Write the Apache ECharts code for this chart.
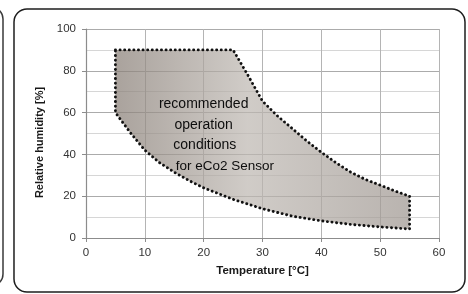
<!DOCTYPE html>
<html>
<head>
<meta charset="utf-8">
<script src="https://cdn.jsdelivr.net/npm/echarts@6/dist/echarts.min.js"></script>
<style>
  html, body { margin: 0; padding: 0; background: #fff; }
  #chart { width: 468px; height: 294px; }
</style>
</head>
<body>
<div id="chart"></div>
<script>
// operating window, upper edge (temperature / humidity)
const upperTemp = [5, 25, 27.5, 30, 32.5, 35, 37.5, 40, 42.5, 45, 47.5, 50, 52.5, 55];
const upperHum = [90, 90, 78, 65.5, 58.5, 52.5, 46.5, 41, 36, 31.5, 28, 25.3, 22.5, 20];
// lower edge
const lowerTemp = [5, 7.5, 10, 12.5, 15, 17.5, 20, 25, 30, 35, 40, 45, 50, 55];
const lowerHum = [60, 50.5, 42, 36, 31.5, 27.5, 24, 18.5, 14, 10.5, 8.2, 6.5, 5.3, 4.3];

const xTicks = [0, 10, 20, 30, 40, 50, 60];
const yTicks = [0, 20, 40, 60, 80, 100];

// label inside the area
const noteLines = ["recommended", "operation", "conditions", "for eCo2 Sensor"];
const noteTemp = [20, 20, 20.2, 23.6];
const noteHum = [64, 54, 44.5, 34.4];
const noteSize = [14, 14, 14, 13.5];

const font = "'Liberation Sans', Arial, sans-serif";

// closed outline: upper edge left->right, then lower edge right->left
const outline = [];
upperTemp.forEach((t, i) => outline.push([t, upperHum[i]]));
for (let i = lowerTemp.length - 1; i >= 0; i--) outline.push([lowerTemp[i], lowerHum[i]]);

const chart = echarts.init(document.getElementById("chart"), null, { renderer: "canvas" });

const option = {
  animation: false,
  backgroundColor: "#fff",
  grid: { left: 86, right: 29, top: 29, bottom: 56 },
  xAxis: {
    type: "value",
    min: xTicks[0],
    max: xTicks[xTicks.length - 1],
    interval: 10,
    name: "Temperature [°C]",
    nameLocation: "middle",
    nameGap: 27,
    nameTextStyle: { fontFamily: font, fontWeight: "bold", fontSize: 11.5, color: "#1a1a1a" },
    axisLine: { show: true, lineStyle: { color: "#8c8c8c", width: 1.2 } },
    axisTick: { show: true, length: 4, lineStyle: { color: "#8c8c8c" } },
    axisLabel: { margin: 9, fontFamily: font, fontSize: 11.5, color: "#333" },
    splitLine: { show: true, lineStyle: { color: "#b4b4b4", width: 1 } }
  },
  yAxis: {
    type: "value",
    min: yTicks[0],
    max: yTicks[yTicks.length - 1],
    interval: 20,
    name: "Relative humidity [%]",
    nameLocation: "middle",
    nameGap: 31,
    nameTextStyle: { fontFamily: font, fontWeight: "bold", fontSize: 11, color: "#1a1a1a", padding: [0, 18, 0, 0] },
    axisLine: { show: true, lineStyle: { color: "#8c8c8c", width: 1.2 } },
    axisTick: { show: true, length: 4, lineStyle: { color: "#8c8c8c" } },
    axisLabel: { margin: 10, fontFamily: font, fontSize: 11.5, color: "#333" },
    splitLine: { show: true, lineStyle: { color: "#ababab", width: 1 } },
    minorTick: { show: false, splitNumber: 2 },
    minorSplitLine: { show: true, lineStyle: { color: "#d6d6d6", width: 1 } }
  },
  series: [
    {
      type: "custom",
      coordinateSystem: "cartesian2d",
      data: [[0, 0]],
      z: 3,
      renderItem: (params, api) => {
        const pts = outline.map(p => api.coord(p));
        return {
          type: "polygon",
          shape: { points: pts },
          style: {
            fill: new echarts.graphic.LinearGradient(0, 0, 1, 0, [
              { offset: 0, color: "rgba(136,126,118,0.72)" },
              { offset: 0.45, color: "rgba(190,184,178,0.72)" },
              { offset: 1, color: "rgba(158,150,144,0.72)" }
            ]),
            stroke: "#111",
            lineWidth: 2.9,
            lineDash: [0.1, 4.5],
            lineCap: "round"
          }
        };
      }
    },
    {
      type: "custom",
      coordinateSystem: "cartesian2d",
      data: noteLines.map((s, i) => [noteTemp[i], noteHum[i]]),
      z: 5,
      renderItem: (params, api) => {
        const p = api.coord([api.value(0), api.value(1)]);
        const i = params.dataIndex;
        return {
          type: "text",
          x: p[0],
          y: p[1],
          style: {
            text: noteLines[i],
            fill: "#0d0d0d",
            font: noteSize[i] + "px " + font,
            align: "center",
            verticalAlign: "middle"
          }
        };
      }
    }
  ],
  graphic: [
    {
      type: "rect",
      shape: { x: 14, y: 9, width: 451, height: 283, r: 13 },
      style: { fill: "none", stroke: "#1e1e1e", lineWidth: 1.5 },
      silent: true
    },
    {
      type: "rect",
      shape: { x: -40, y: 7, width: 43, height: 279, r: 12 },
      style: { fill: "none", stroke: "#3a3a3a", lineWidth: 1.5 },
      silent: true
    }
  ]
};

chart.setOption(option);
</script>
</body>
</html>
